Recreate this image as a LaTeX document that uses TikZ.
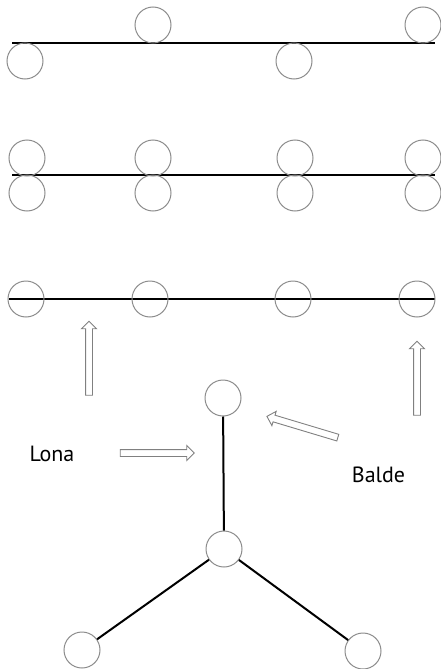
\documentclass[tikz,border=0pt]{standalone}
\usepackage{fontspec}
\setmainfont{PT Sans}
\usetikzlibrary{shapes.arrows}
\begin{document}
\begin{tikzpicture}[x=1pt,y=-1pt,
  ring/.style={circle,draw=black!45,line width=1pt,minimum size=36pt,inner sep=0pt},
  wring/.style={ring,fill=white},
  bar/.style={line width=2pt,black},
  hollow/.style={single arrow,draw=black!50,line width=0.9pt,minimum width=0pt,
    single arrow head extend=4pt,minimum height=74pt,inner xsep=0pt,inner ysep=3pt,
    single arrow head indent=0pt},
  lbl/.style={font=\fontsize{22}{26}\selectfont,anchor=base,inner sep=0pt}]
\useasboundingbox (0,0) rectangle (440,669);
% row 1
\coordinate (r1a) at (12,43); \coordinate (r1b) at (435,43);
\draw[bar] (r1a) -- (r1b);
\node[ring] (c11) at (25,61) {};
\node[ring] (c12) at (153,25) {};
\node[ring] (c13) at (294,61) {};
\node[ring] (c14) at (423,25) {};
% row 2
\coordinate (r2a) at (12,175); \coordinate (r2b) at (435,175);
\draw[bar] (r2a) -- (r2b);
\foreach \x [count=\i] in {27,153,295,423}{
  \node[ring] (u\i) at (\x,158) {};
  \node[ring] (d\i) at (\x,193) {};
}
% row 3
\coordinate (r3a) at (9,299); \coordinate (r3b) at (435,299);
\draw[bar] (r3a) -- (r3b);
\foreach \x [count=\i] in {26,150,293,417}{
  \node[ring] (m\i) at (\x,299) {};
}
% arrows
\node[hollow,rotate=90] (aL) at (89,360) {};
\node[hollow,rotate=90] (aR) at (417,380) {};
\node[hollow] (aLona) at (155.5,453) {};
\node[hollow,rotate=163.3] (aBalde) at (304,427.5) {};
% labels
\node[lbl] (lona) at (52,461) {Lona};
\node[lbl] (balde) at (378.5,482) {Balde};
% tree
\node[wring] (t1) at (223,398) {};
\node[wring] (t2) at (224,549) {};
\node[wring] (t3) at (82,650) {};
\node[wring] (t4) at (363,651) {};
\draw[bar] (t1) -- (t2);
\draw[bar] (t2) -- (t3);
\draw[bar] (t2) -- (t4);
\end{tikzpicture}
\end{document}
